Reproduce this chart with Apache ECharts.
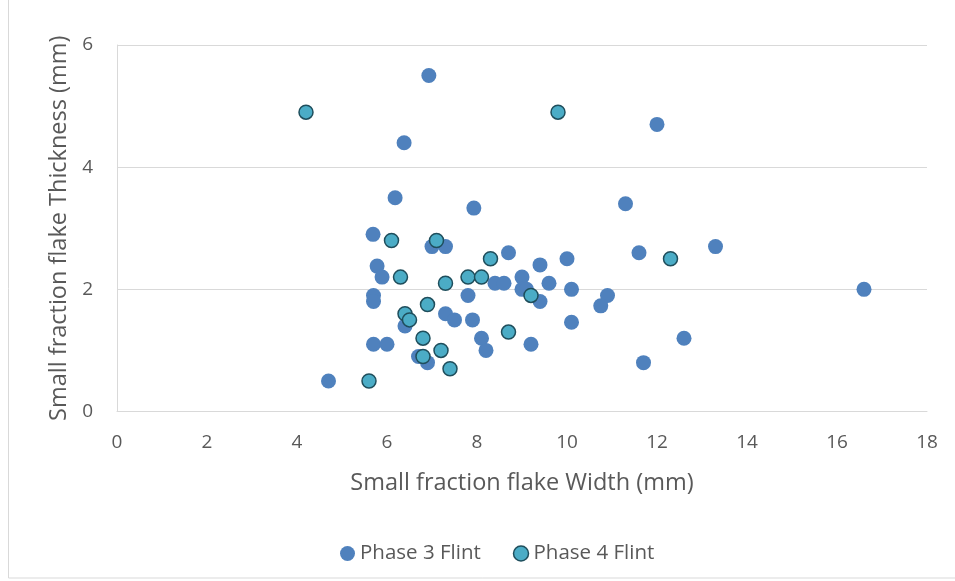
<!DOCTYPE html>
<html>
<head>
<meta charset="utf-8">
<script src="https://cdn.jsdelivr.net/npm/echarts@6/dist/echarts.min.js"></script>
<style>html,body{margin:0;padding:0;background:#fff}#c{width:955px;height:581px}</style>
</head>
<body>
<div id="c"></div>
<script>
const phase3Width = [6.93,6.38,12.0,6.18,7.93,11.3,5.69,7.0,7.3,8.7,5.78,5.89,9.4,10.0,8.4,8.6,9.0,9.0,9.1,9.4,9.6,10.1,10.9,10.75,11.6,13.3,16.6,5.7,5.7,7.8,7.3,7.5,7.9,6.4,10.1,8.1,8.2,9.2,5.7,6.0,6.7,6.9,4.7,11.7,12.6];
const phase3Thick = [5.5,4.4,4.7,3.5,3.33,3.4,2.9,2.7,2.7,2.6,2.38,2.2,2.4,2.5,2.1,2.1,2.2,2.0,2.0,1.8,2.1,2.0,1.9,1.73,2.6,2.7,2.0,1.9,1.8,1.9,1.6,1.5,1.5,1.4,1.46,1.2,1.0,1.1,1.1,1.1,0.9,0.8,0.5,0.8,1.2];
const phase4Width = [4.2,9.8,6.1,7.1,8.3,6.3,7.8,8.1,7.3,9.2,6.9,6.4,6.5,6.8,8.7,7.2,6.8,7.4,5.6,12.3];
const phase4Thick = [4.9,4.9,2.8,2.8,2.5,2.2,2.2,2.2,2.1,1.9,1.75,1.6,1.5,1.2,1.3,1.0,0.9,0.7,0.5,2.5];
const seriesNames = ['Phase 3 Flint','Phase 4 Flint'];
const xTitle = 'Small fraction flake Width (mm)';
const yTitle = 'Small fraction flake Thickness (mm)';

const zip = (a,b) => a.map((v,i)=>[v,b[i]]);
const font = '"Open Sans", "Noto Sans", sans-serif';
const chart = echarts.init(document.getElementById('c'));
chart.setOption({
  animation:false,
  backgroundColor:'#fff',
  graphic:[{type:'rect',shape:{x:8.5,y:-2,width:960,height:580},style:{fill:'none',stroke:'#d9d9d9',lineWidth:1},silent:true}],
  grid:{left:117,right:28,top:45,bottom:169.5,containLabel:false},
  legend:{
    data:[
      {name:seriesNames[0],itemStyle:{color:'#4f81bd',borderWidth:0}},
      {name:seriesNames[1],itemStyle:{color:'#4bacc6',borderColor:'#1f4e5c',borderWidth:1.5}}
    ],
    top:538,left:335,icon:'circle',itemWidth:15,itemHeight:15,itemGap:32,
    textStyle:{fontFamily:font,fontSize:20.5,color:'#595959'}
  },
  xAxis:{
    type:'value',min:0,max:18,interval:2,
    name:xTitle,nameLocation:'middle',nameGap:60,
    nameTextStyle:{fontFamily:font,fontSize:23.5,color:'#595959'},
    axisLine:{show:true,lineStyle:{color:'#d9d9d9'}},
    axisTick:{show:false},
    splitLine:{show:false},
    axisLabel:{fontFamily:font,fontSize:19,color:'#595959',margin:22}
  },
  yAxis:{
    type:'value',min:0,max:6,interval:2,
    name:yTitle,nameLocation:'middle',nameGap:45,
    nameTextStyle:{fontFamily:font,fontSize:23.5,color:'#595959'},
    axisLine:{show:true,lineStyle:{color:'#d9d9d9'}},
    axisTick:{show:false},
    splitLine:{show:true,lineStyle:{color:'#d9d9d9'}},
    axisLabel:{fontFamily:font,fontSize:19,color:'#595959',margin:24}
  },
  series:[
    {name:seriesNames[0],type:'scatter',data:zip(phase3Width,phase3Thick),symbolSize:15,
     itemStyle:{color:'#4f81bd',opacity:1}},
    {name:seriesNames[1],type:'scatter',data:zip(phase4Width,phase4Thick),symbolSize:14,
     itemStyle:{color:'#4bacc6',borderColor:'#1f4e5c',borderWidth:1.5,opacity:1}}
  ]
});
</script>
</body>
</html>
